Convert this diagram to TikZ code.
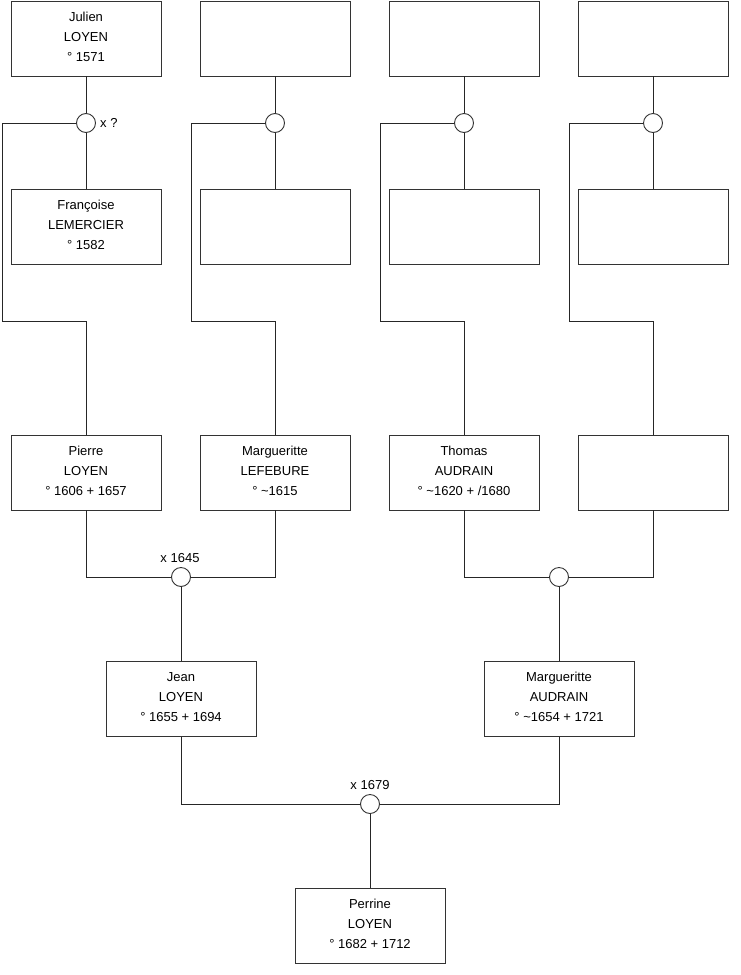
\documentclass[tikz,border=0pt]{standalone}
\usepackage{fontspec}
\setmainfont{Liberation Sans}
\newcommand\ptext[1]{\raisebox{1.5pt}[\height][\depth]{\begin{tabular}{@{}c@{}}#1\end{tabular}}}
\begin{document}
\begin{tikzpicture}[x=1pt,y=-1pt,
  person/.style={draw=black!80,line width=0.9pt,fill=white,minimum width=150pt,minimum height=75pt,inner sep=0pt,align=center,font=\fontsize{13}{20}\selectfont},
  union/.style={draw=black!80,line width=0.9pt,fill=white,circle,minimum size=19pt,inner sep=0pt},
  lbl/.style={font=\fontsize{13}{15}\selectfont,inner sep=0pt},
  link/.style={line width=0.9pt,black!85}]
\useasboundingbox (0,0) rectangle (740,975);
% row 1
\node[person] (b1) at (86,38.5) {\ptext{Julien\\LOYEN\\° 1571}};
\node[person] (b2) at (275,38.5) {};
\node[person] (b3) at (464,38.5) {};
\node[person] (b4) at (653,38.5) {};
% row 2
\node[person] (b5) at (86,227) {\ptext{Françoise\\LEMERCIER\\° 1582}};
\node[person] (b6) at (275,227) {};
\node[person] (b7) at (464,227) {};
\node[person] (b8) at (653,227) {};
% row 3
\node[person] (b9) at (86,472.5) {\ptext{Pierre\\LOYEN\\° 1606 + 1657}};
\node[person] (b10) at (275,472.5) {\ptext{Margueritte\\LEFEBURE\\° \textasciitilde1615}};
\node[person] (b11) at (464,472.5) {\ptext{Thomas\\AUDRAIN\\° \textasciitilde1620 + /1680}};
\node[person] (b12) at (653,472.5) {};
% row 4
\node[person] (b13) at (181,699) {\ptext{Jean\\LOYEN\\° 1655 + 1694}};
\node[person] (b14) at (559,699) {\ptext{Margueritte\\AUDRAIN\\° \textasciitilde1654 + 1721}};
% row 5
\node[person] (b15) at (370,925.5) {\ptext{Perrine\\LOYEN\\° 1682 + 1712}};
% unions
\node[union] (c1) at (86,123) {};
\node[union] (c2) at (275,123) {};
\node[union] (c3) at (464,123) {};
\node[union] (c4) at (653,123) {};
\node[union] (c5) at (181,577) {};
\node[union] (c6) at (559,577) {};
\node[union] (c7) at (370,804) {};
% labels
\node[lbl,anchor=west] (l1) at (100,123) {x ?};
\node[lbl] (l5) at (180,558) {x 1645};
\node[lbl] (l7) at (370,785) {x 1679};
% corner coordinates
\coordinate (k1) at (2,123);   \coordinate (m1) at (2,321);
\coordinate (k2) at (191,123); \coordinate (m2) at (191,321);
\coordinate (k3) at (380,123); \coordinate (m3) at (380,321);
\coordinate (k4) at (569,123); \coordinate (m4) at (569,321);
% top connectors
\draw[link] (b1.south) -- (c1.north);
\draw[link] (b2.south) -- (c2.north);
\draw[link] (b3.south) -- (c3.north);
\draw[link] (b4.south) -- (c4.north);
\draw[link] (c1.south) -- (b5.north);
\draw[link] (c2.south) -- (b6.north);
\draw[link] (c3.south) -- (b7.north);
\draw[link] (c4.south) -- (b8.north);
\draw[link] (c1.west) -- (k1) -- (m1) -| (b9.north);
\draw[link] (c2.west) -- (k2) -- (m2) -| (b10.north);
\draw[link] (c3.west) -- (k3) -- (m3) -| (b11.north);
\draw[link] (c4.west) -- (k4) -- (m4) -| (b12.north);
% middle
\draw[link] (b9.south) |- (c5.west);
\draw[link] (b10.south) |- (c5.east);
\draw[link] (b11.south) |- (c6.west);
\draw[link] (b12.south) |- (c6.east);
\draw[link] (c5.south) -- (b13.north);
\draw[link] (c6.south) -- (b14.north);
% bottom
\draw[link] (b13.south) |- (c7.west);
\draw[link] (b14.south) |- (c7.east);
\draw[link] (c7.south) -- (b15.north);
\end{tikzpicture}
\end{document}
